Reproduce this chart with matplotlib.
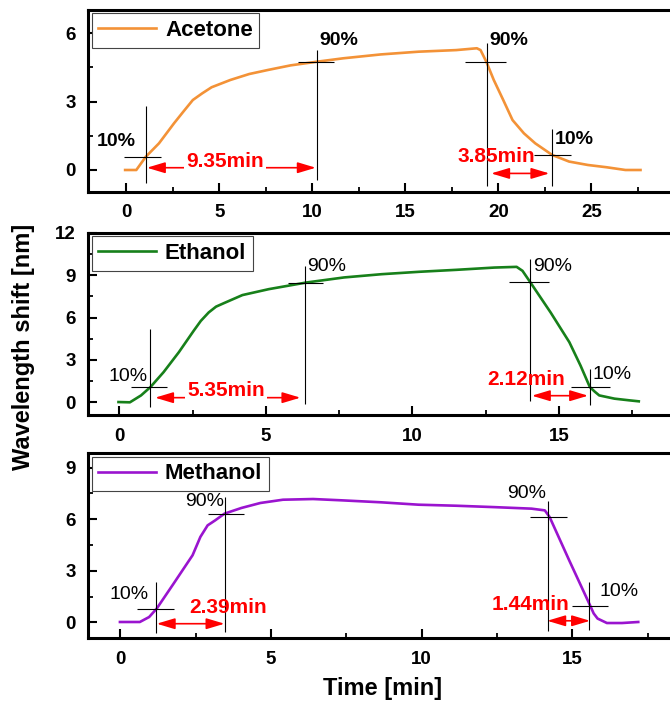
import matplotlib
matplotlib.use('Agg')
import matplotlib.pyplot as plt
from matplotlib.ticker import FixedLocator

plt.rcParams['font.family'] = ['Liberation Sans', 'DejaVu Sans']
plt.rcParams['font.weight'] = 'bold'

# ---------------- data ----------------
names = ['Acetone', 'Ethanol', 'Methanol']
colors = ['#F39237', '#17801A', '#9A14CF']

t_acetone = [-0.07, 0.53, 1.04, 1.75, 2.56, 3.06, 3.57, 4.07, 4.58, 5.59, 6.60, 7.62, 8.83,
             10.24, 11.66, 13.68, 15.71, 17.73, 18.84, 19.04, 19.35, 19.75, 20.26, 20.76,
             21.37, 21.98, 22.89, 23.8, 24.81, 25.82, 26.83, 27.64]
y_acetone = [0, 0, 0.58, 1.17, 2.05, 2.56, 3.07, 3.36, 3.63, 3.95, 4.21, 4.39, 4.59,
             4.75, 4.9, 5.07, 5.19, 5.26, 5.34, 5.26, 4.75, 3.95, 3.07, 2.19,
             1.61, 1.17, 0.66, 0.37, 0.22, 0.12, 0.0, 0.0]

t_ethanol = [-0.03, 0.36, 0.74, 1.06, 1.51, 2.03, 2.54, 2.78, 3.05, 3.3, 3.57, 4.2, 5.1,
             6.38, 7.67, 8.95, 10.23, 11.51, 12.8, 13.56, 13.76, 14.01, 14.72, 15.36,
             15.74, 16.06, 16.23, 16.38, 16.9, 17.41, 17.73]
y_ethanol = [0.02, 0, 0.49, 1.08, 2.14, 3.55, 5.08, 5.77, 6.37, 6.78, 7.03, 7.6, 8.02,
             8.49, 8.85, 9.08, 9.25, 9.39, 9.55, 9.6, 9.32, 8.56, 6.37, 4.26,
             2.61, 1.08, 0.75, 0.49, 0.26, 0.14, 0.07]

t_methanol = [-0.01, 0.65, 0.96, 1.21, 1.77, 2.4, 2.66, 2.9, 3.03, 3.15, 3.46, 4.02, 4.65,
              5.4, 6.4, 7.4, 8.65, 9.9, 11.15, 12.4, 13.65, 14.09, 14.25, 14.9, 15.59,
              15.71, 15.84, 16.15, 16.65, 17.19]
y_methanol = [0.02, 0.02, 0.31, 0.8, 2.25, 3.9, 4.97, 5.64, 5.79, 5.93, 6.32, 6.65, 6.94,
              7.13, 7.17, 7.09, 6.98, 6.84, 6.78, 6.7, 6.61, 6.51, 6.12, 3.6, 0.99,
              0.52, 0.22, -0.04, -0.04, 0.02]

times = [t_acetone, t_ethanol, t_methanol]
shifts = [y_acetone, y_ethanol, y_methanol]

# response-time marks: vertical lines (x, ymin, ymax), horizontal lines (y, xmin, xmax)
v_x = [[1.04, 10.24, 19.37, 22.87], [1.03, 6.35, 14.01, 16.08], [1.19, 3.49, 14.2, 15.57]]
v_lo = [[-0.56, -0.44, -0.70, -0.72], [-0.33, -0.09, 0.07, -0.21], [-0.62, -0.56, -0.49, -0.43]]
v_hi = [[2.81, 5.26, 5.58, 1.78], [5.2, 9.67, 10.14, 2.38], [2.34, 7.28, 7.05, 2.34]]
h_y = [[0.58, 4.75, 4.75, 0.66], [1.06, 8.49, 8.56, 1.06], [0.76, 6.32, 6.12, 0.95]]
h_lo = [[-0.12, 9.24, 18.19, 21.89], [0.39, 5.74, 13.31, 15.42], [0.55, 2.9, 13.59, 14.98]]
h_hi = [[1.86, 11.17, 20.41, 23.9], [1.64, 6.96, 14.65, 16.74], [1.8, 4.11, 14.81, 16.2]]

pct_text = ['10%', '90%', '90%', '10%']
pct_x = [[-0.56, 10.4, 19.51, 23.03], [0.28, 6.42, 14.12, 16.16], [0.29, 2.79, 13.5, 15.92]]
pct_y = [[1.24, 5.7, 5.7, 1.32], [1.82, 9.62, 9.62, 1.99], [1.63, 7.0, 7.48, 1.78]]
pct_ha = [['center', 'left', 'left', 'left'], ['center', 'left', 'left', 'left'],
          ['center', 'center', 'center', 'left']]

# rise / fall time arrows
arr_y = [[0.1, -0.15], [0.33, 0.47], [-0.08, 0.09]]
arr_x0 = [[1.1, 19.61], [1.22, 14.08], [1.21, 14.17]]
arr_x1 = [[10.18, 22.74], [6.18, 16.0], [3.46, 15.59]]
rt_text = [['9.35min', '3.85min'], ['5.35min', '2.12min'], ['2.39min', '1.44min']]
rt_x = [[5.31, 19.9], [3.64, 13.88], [3.59, 13.61]]
rt_y = [[0.36, 0.58], [0.87, 1.65], [0.89, 1.05]]
rt_box = [[True, False], [True, False], [False, False]]

xlims = [(-2.05, 30.84), (-1.06, 19.82), (-1.06, 19.24)]
ylims = [(-0.965, 7.02), (-0.9, 12.0), (-0.93, 9.83)]
xticks_major = [[0, 5, 10, 15, 20, 25], [0, 5, 10, 15], [0, 5, 10, 15]]
xticks_minor = [[2.5, 7.5, 12.5, 17.5, 22.5, 27.5], [2.5, 7.5, 12.5, 17.5], [2.5, 7.5, 12.5, 17.5]]
yticks_major = [[0, 3, 6], [0, 3, 6, 9, 12], [0, 3, 6, 9]]
yticks_minor = [[1.5, 4.5], [1.5, 4.5, 7.5, 10.5], [1.5, 4.5, 7.5]]
pct_weight = ['bold', 'normal', 'normal']

# ---------------- figure ----------------
fig = plt.figure(figsize=(6.7, 7.02), dpi=100)
L, W = 0.1318, 0.913
positions = [[L, 0.7265, W, 0.2593], [L, 0.4088, W, 0.2593], [L, 0.0907, W, 0.2636]]

for i in range(3):
    ax = fig.add_axes(positions[i])
    ax.plot(times[i], shifts[i], color=colors[i], lw=1.9, label=names[i], zorder=3,
            solid_joinstyle='round')
    ax.vlines(v_x[i], v_lo[i], v_hi[i], color='black', lw=0.8, zorder=4)
    ax.hlines(h_y[i], h_lo[i], h_hi[i], color='black', lw=0.8, zorder=4)
    for k in range(4):
        ax.text(pct_x[i][k], pct_y[i][k], pct_text[k], ha=pct_ha[i][k], va='center',
                fontsize=14, fontweight=pct_weight[i], color='black', zorder=6)
    for k in range(2):
        ax.annotate('', xy=(arr_x1[i][k], arr_y[i][k]), xytext=(arr_x0[i][k], arr_y[i][k]),
                    arrowprops=dict(arrowstyle='<|-|>,head_length=1.0,head_width=0.3',
                                    color='red', lw=1.2, mutation_scale=11,
                                    shrinkA=0, shrinkB=0), zorder=5)
        kw = {}
        if rt_box[i][k]:
            kw['bbox'] = dict(facecolor='white', edgecolor='none', pad=1.5)
        ax.text(rt_x[i][k], rt_y[i][k], rt_text[i][k], ha='center', va='center',
                fontsize=15, fontweight='bold', color='red', zorder=6, **kw)
    ax.set_xlim(*xlims[i])
    ax.set_ylim(*ylims[i])
    ax.xaxis.set_major_locator(FixedLocator(xticks_major[i]))
    ax.xaxis.set_minor_locator(FixedLocator(xticks_minor[i]))
    ax.yaxis.set_major_locator(FixedLocator(yticks_major[i]))
    ax.yaxis.set_minor_locator(FixedLocator(yticks_minor[i]))
    ax.tick_params(which='major', direction='in', length=6.5, width=1.5, labelsize=13.5,
                   top=False, right=False)
    ax.tick_params(which='minor', direction='in', length=3.5, width=1.3,
                   top=False, right=False)
    ax.tick_params(axis='x', which='major', pad=9)
    ax.tick_params(axis='y', which='major', pad=9)
    for s in ax.spines.values():
        s.set_linewidth(2.2)
    leg = ax.legend(loc='upper left', bbox_to_anchor=(0.0, 1.0), borderaxespad=0.15,
                    frameon=True, fancybox=False, framealpha=1, edgecolor='#444444',
                    handlelength=2.6, handletextpad=0.4, borderpad=0.3,
                    prop={'size': 16, 'weight': 'bold'})
    leg.get_frame().set_linewidth(0.8)
    leg.set_zorder(10)

fig.text(24 / 670, 1 - 347 / 702, 'Wavelength shift [nm]', rotation=90, ha='center',
         va='center', fontsize=17, fontweight='bold')
fig.text(382.5 / 670, 1 - 688 / 702, 'Time [min]', ha='center', va='center',
         fontsize=17, fontweight='bold')

fig.savefig('out.png', dpi=100)
